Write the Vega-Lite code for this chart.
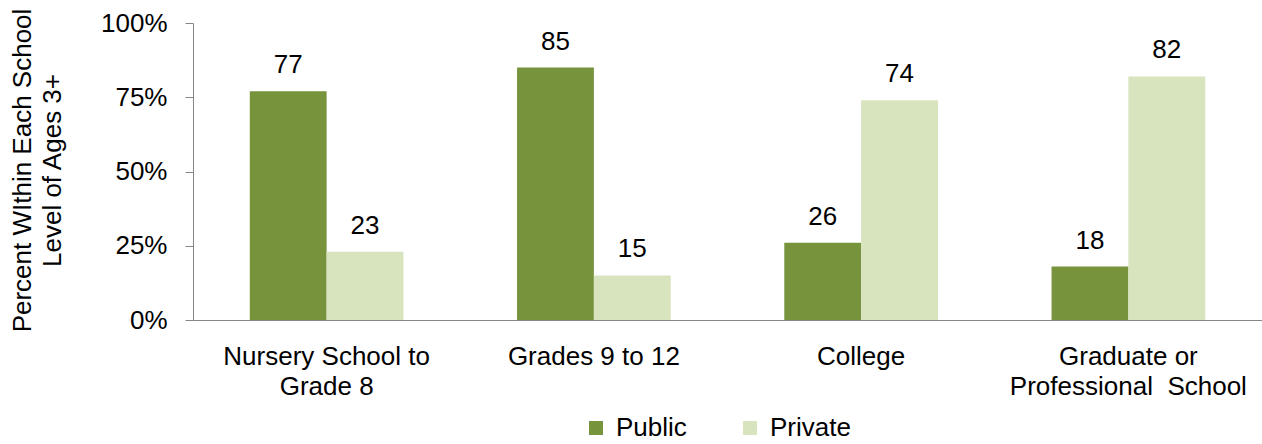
{
  "$schema": "https://vega.github.io/schema/vega-lite/v6.json",
  "width": 1069,
  "height": 297,
  "autosize": {"type": "none"},
  "padding": {"left": 193, "top": 23, "right": 0, "bottom": 124},
  "background": "white",
  "config": {"view": {"stroke": null}, "font": "Liberation Sans"},
  "data": {
    "values": [
      {"level": "Nursery School to|Grade 8", "sector": "Public", "value": 77},
      {"level": "Nursery School to|Grade 8", "sector": "Private", "value": 23},
      {"level": "Grades 9 to 12", "sector": "Public", "value": 85},
      {"level": "Grades 9 to 12", "sector": "Private", "value": 15},
      {"level": "College", "sector": "Public", "value": 26},
      {"level": "College", "sector": "Private", "value": 74},
      {"level": "Graduate or|Professional\u00a0 School", "sector": "Public", "value": 18},
      {"level": "Graduate or|Professional\u00a0 School", "sector": "Private", "value": 82}
    ]
  },
  "encoding": {
    "x": {
      "field": "level",
      "type": "nominal",
      "sort": ["Nursery School to|Grade 8", "Grades 9 to 12", "College", "Graduate or|Professional\u00a0 School"],
      "scale": {"paddingInner": 0.425, "paddingOuter": 0.2125},
      "axis": {
        "title": null,
        "labelExpr": "split(datum.label, '|')",
        "labelFontSize": 26,
        "labelColor": "black",
        "labelLineHeight": 30,
        "labelAngle": 0,
        "labelLimit": 0,
        "ticks": false,
        "domainColor": "#868686",
        "labelPadding": 23
      }
    },
    "xOffset": {"field": "sector", "type": "nominal", "sort": ["Public", "Private"]},
    "y": {
      "field": "value",
      "type": "quantitative",
      "scale": {"domain": [0, 100]},
      "axis": {
        "values": [0, 25, 50, 75, 100],
        "labelExpr": "datum.value + '%'",
        "grid": false,
        "domainColor": "#868686",
        "tickColor": "#868686",
        "tickSize": 8,
        "labelPadding": 18,
        "labelFontSize": 26,
        "labelColor": "black",
        "title": ["Percent WIthin Each School", "Level of Ages 3+"],
        "titleFontSize": 26,
        "titleFontWeight": "normal",
        "titleColor": "black",
        "titleX": -184,
        "titleY": 147,
        "titleAngle": -90,
        "titleAlign": "center",
        "titleBaseline": "top",
        "titleLineHeight": 30
      }
    }
  },
  "layer": [
    {
      "mark": {"type": "bar"},
      "encoding": {
        "color": {
          "field": "sector",
          "type": "nominal",
          "sort": ["Public", "Private"],
          "scale": {"range": ["#77933C", "#D7E4BD"]},
          "legend": {
            "title": null,
            "orient": "none",
            "legendX": 390,
            "legendY": 392,
            "direction": "horizontal",
            "symbolType": "square",
            "symbolSize": 196,
            "symbolStrokeWidth": 0,
            "symbolOpacity": 1,
            "labelFontSize": 26,
            "labelColor": "black",
            "labelOffset": 7,
            "columnPadding": 50,
            "padding": 0
          }
        }
      }
    },
    {
      "mark": {"type": "text", "dy": -18, "baseline": "alphabetic", "fontSize": 26, "color": "black"},
      "encoding": {"text": {"field": "value", "type": "quantitative"}}
    }
  ]
}
